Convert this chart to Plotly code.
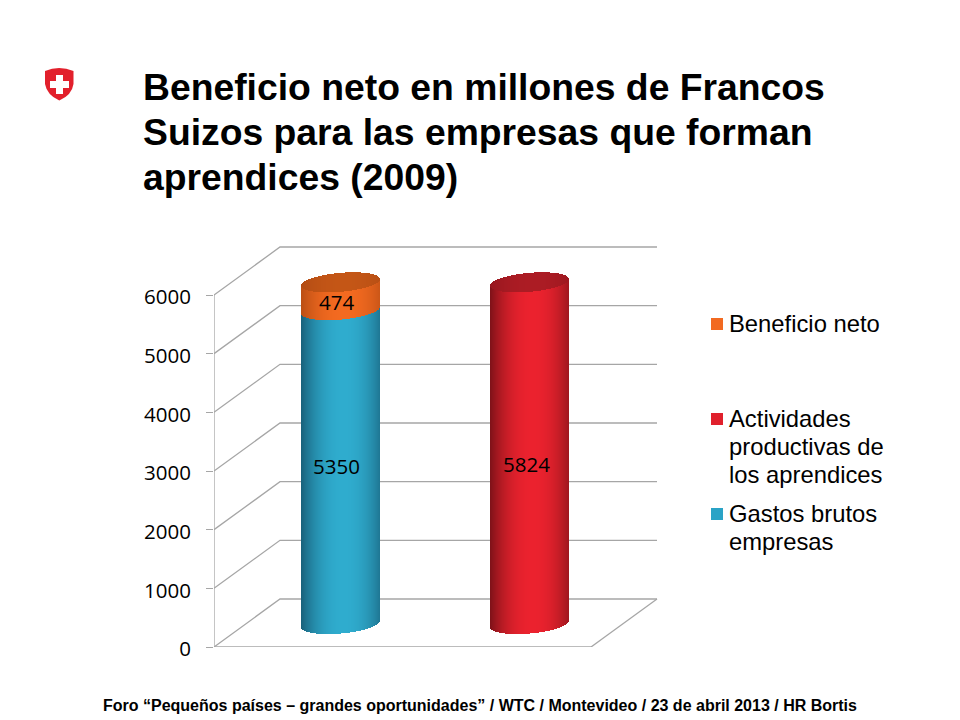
import numpy as np
import plotly.graph_objects as go

# ── Data ───────────────────────────────────────────────────────────────────────
CATEGORIES = ["Empresas", "Aprendices"]
GASTOS = [5350, 0]
ACTIVIDADES = [0, 5824]
BENEFICIO = [474, 0]
TICKS = [0, 1000, 2000, 3000, 4000, 5000, 6000]

TITLE_LINES = ["Beneficio neto en millones de Francos",
               "Suizos para las empresas que forman",
               "aprendices (2009)"]
FOOTER = "Foro “Pequeños países – grandes oportunidades” / WTC / Montevideo / 23 de abril 2013 / HR Bortis"
LEGEND_LINES = [["Beneficio neto"],
                ["Actividades", "productivas de", "los aprendices"],
                ["Gastos brutos", "empresas"]]
LEGEND_COLORS = ["#F26A21", "#E0202C", "#2AA3C6"]

# ── Fake 3D geometry (x in category units, y in value units) ───────────────────
# page has an 8px body margin, all pixel numbers below are page pixels
PAGE_W, PAGE_H, BODY = 960, 720, 8
W, H = PAGE_W - BODY, PAGE_H - BODY
PLOT_L, PLOT_R, PLOT_T, PLOT_B = 214, 662, 240, 647
PX_PER_CAT = 189
PX_PER_VAL = (647 - 295) / 6000

X0 = -(340.5 - 214) / PX_PER_CAT       # left edge of the floor front
X1 = X0 + (591 - 214) / PX_PER_CAT     # right edge of the floor front
DX = 66 / PX_PER_CAT                   # wall depth
DY = 48 / PX_PER_VAL
BASE = 23 / PX_PER_VAL                 # cylinders stand mid floor
HALF = 39.5 / PX_PER_CAT
ELL_B = 9.5 / PX_PER_VAL
ELL_TILT = 3.3 / PX_PER_VAL

GRID = "#A6A6A6"
N_STRIPS = 79

U = (np.arange(N_STRIPS) + 0.5) / N_STRIPS * 2 - 1


def px(x):
    return (x - PLOT_L) / (PLOT_R - PLOT_L)


def py(y):
    return (PLOT_B - y) / (PLOT_B - PLOT_T)


def shade(edge, centre):
    # lit a bit right of the middle, dark at both rims
    f = 1 - (np.abs(U - 0.08) / 1.08) ** 2.2
    edge, centre = np.array(edge), np.array(centre)
    return [f"rgb({r:.0f},{g:.0f},{b:.0f})" for r, g, b in (edge + np.outer(f, centre - edge))]


def lower(u):
    return -ELL_B * np.sqrt(1 - u ** 2) + ELL_TILT * u


def upper(u):
    return ELL_B * np.sqrt(1 - u ** 2) + ELL_TILT * u


def side(pos, v0, v1, colors):
    return go.Bar(x=pos + HALF * U, base=BASE + v0 + lower(U), y=np.full(N_STRIPS, float(v1 - v0)),
                  width=2 * HALF / N_STRIPS, marker=dict(color=colors, line_width=0),
                  showlegend=False, hoverinfo="skip")


def cap(pos, v, colors):
    return go.Bar(x=pos + HALF * U, base=BASE + v + lower(U), y=upper(U) - lower(U),
                  width=2 * HALF / N_STRIPS, marker=dict(color=colors, line_width=0),
                  showlegend=False, hoverinfo="skip")


BLUE = shade((24, 96, 122), (47, 172, 206))
ORANGE = shade((186, 78, 20), (243, 106, 32))
ORANGE_TOP = shade((178, 76, 20), (196, 86, 22))
RED = shade((125, 18, 24), (235, 34, 46))
RED_TOP = shade((150, 22, 30), (172, 28, 36))

fig = go.Figure()
for i in range(len(CATEGORIES)):
    if GASTOS[i]:
        fig.add_trace(side(i, 0, GASTOS[i], BLUE))
    if ACTIVIDADES[i]:
        fig.add_trace(side(i, 0, ACTIVIDADES[i], RED))
        fig.add_trace(cap(i, ACTIVIDADES[i], RED_TOP))
    if BENEFICIO[i]:
        fig.add_trace(side(i, GASTOS[i], GASTOS[i] + BENEFICIO[i], ORANGE))
        fig.add_trace(cap(i, GASTOS[i] + BENEFICIO[i], ORANGE_TOP))

# left axis line and front edge of the floor
fig.add_trace(go.Scatter(x=[X0, X0, X1], y=[TICKS[-1], 0, 0], mode="lines",
                         line=dict(color=GRID, width=1.3), cliponaxis=False,
                         showlegend=False, hoverinfo="skip"))

# walls and floor
shapes = []
for v in TICKS:
    shapes.append(dict(type="path", layer="below", xref="x", yref="y",
                       path=f"M {X0},{v} L {X0 + DX},{v + DY} L {X1 + DX},{v + DY}",
                       line=dict(color=GRID, width=1.3)))
shapes.append(dict(type="line", layer="below", xref="x", yref="y", x0=X1, y0=0, x1=X1 + DX, y1=DY,
                   line=dict(color=GRID, width=1.3)))

# Swiss shield
shapes.append(dict(type="path", xref="paper", yref="paper", line_width=0, fillcolor="#E2202C",
                   path=f"M {px(45)},{py(71)} Q {px(59)},{py(65)} {px(73.5)},{py(71)} "
                        f"L {px(73.5)},{py(84)} Q {px(72)},{py(95)} {px(59.3)},{py(100.5)} "
                        f"Q {px(47)},{py(95)} {px(45)},{py(84)} Z"))
for a, b, c, d in [(56, 75, 63, 94), (50, 81, 69, 88)]:
    shapes.append(dict(type="rect", xref="paper", yref="paper", line_width=0, fillcolor="white",
                       x0=px(a), x1=px(c), y0=py(b), y1=py(d)))

BLACK = "#000000"
annotations = [
    dict(xref="x", yref="y", x=-0.019, y=5880, text="474"),
    dict(xref="x", yref="y", x=-0.019, y=3085, text="5350"),
    dict(xref="x", yref="y", x=0.986, y=3119, text="5824"),
]
for a in annotations:
    a.update(showarrow=False, font=dict(family="Open Sans", size=20.5, color=BLACK))


def page_text(x, y, text, size, xanchor="left", weight="normal"):
    annotations.append(dict(xref="paper", yref="paper", x=px(x), y=py(y), text=text, showarrow=False,
                            xanchor=xanchor, yanchor="middle",
                            font=dict(family="Liberation Sans", size=size, color=BLACK, weight=weight)))


# title lines are 45px apart, closer than plotly's own line height at this size
for k, line in enumerate(TITLE_LINES):
    page_text(141, 87 + 45 * k, line, 37.3, weight="bold")
page_text(480, 705, FOOTER, 16, xanchor="center", weight="bold")

# legend: squares sit on the first line of each entry, gaps are not even
for lines, color, y in zip(LEGEND_LINES, LEGEND_COLORS, [324, 419, 514]):
    shapes.append(dict(type="rect", xref="paper", yref="paper", line_width=0, fillcolor=color,
                       x0=px(711), x1=px(723), y0=py(y - 6), y1=py(y + 6)))
    for k, line in enumerate(lines):
        page_text(727, y - 1 + 28 * k, line, 23.8)

fig.update_layout(
    width=W, height=H, plot_bgcolor="white", paper_bgcolor="white", showlegend=False,
    margin=dict(l=PLOT_L - BODY, r=PAGE_W - PLOT_R, t=PLOT_T - BODY, b=PAGE_H - PLOT_B),
    barmode="overlay", bargap=0, shapes=shapes, annotations=annotations,
    xaxis=dict(range=[X0, X0 + (PLOT_R - PLOT_L) / PX_PER_CAT], visible=False, fixedrange=True),
    yaxis=dict(range=[0, (PLOT_B - PLOT_T) / PX_PER_VAL], tickvals=TICKS, ticks="outside", ticklen=7,
               tickcolor=GRID, tickwidth=1.3, showgrid=False, zeroline=False, showline=False,
               ticklabelstandoff=11, ticklabelshift=2, tickformat="d", fixedrange=True,
               tickfont=dict(family="Open Sans", size=20.5, color=BLACK)),
)

fig.write_html("out.html")
